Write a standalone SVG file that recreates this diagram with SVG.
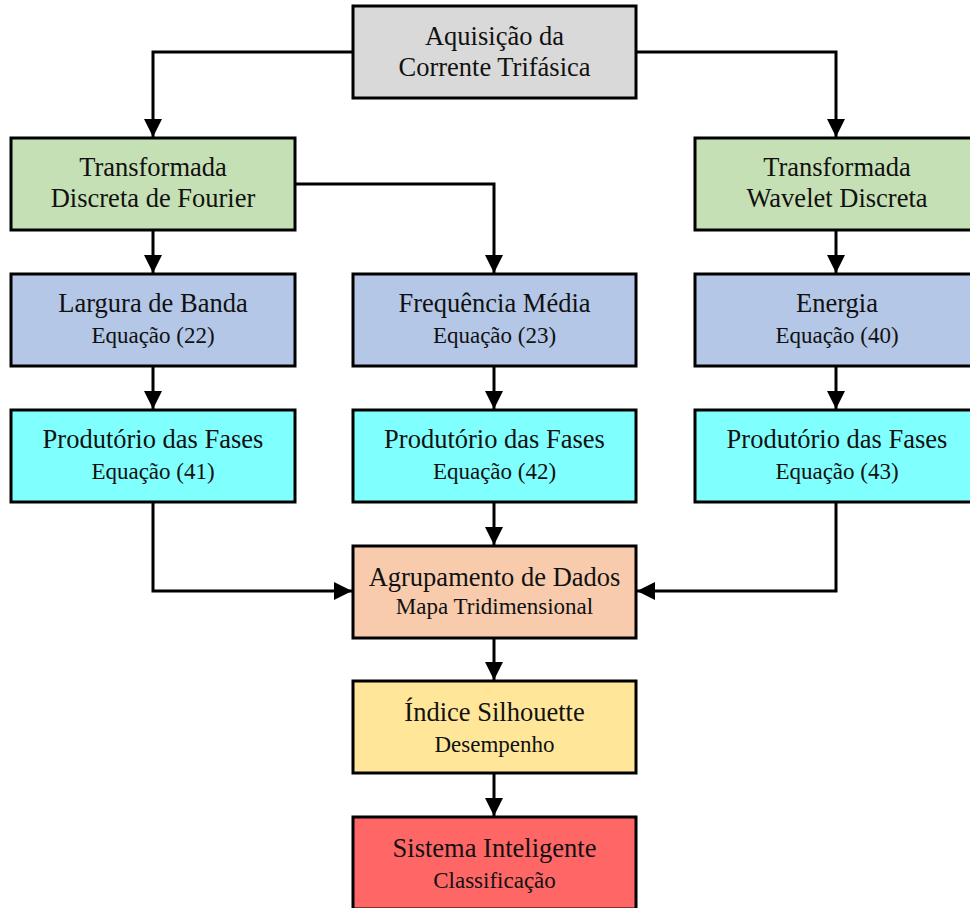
<svg xmlns="http://www.w3.org/2000/svg" width="970" height="908" viewBox="0 0 970 908">
<defs>
<marker id="ah" markerUnits="userSpaceOnUse" markerWidth="18" markerHeight="18" refX="18" refY="9" orient="auto" viewBox="0 0 18 18">
<path d="M0,0 L18,9 L0,18 z" fill="#000"/>
</marker>
<style>
rect{stroke:#000;stroke-width:3}
text{font-family:"Liberation Serif","Times New Roman",serif;fill:#111;text-anchor:middle}
.t{font-size:26.5px}
.s{font-size:23px}
.c path{fill:none;stroke:#000;stroke-width:3;marker-end:url(#ah)}
</style>
</defs>
<rect x="0" y="0" width="970" height="908" fill="#fff" style="stroke:none"/>
<g class="c" id="connectors">
<path d="M353,52 H153 V137"/>
<path d="M636,52 H836 V137"/>
<path d="M153,230 V273"/>
<path d="M295,184 H494 V273"/>
<path d="M836,230 V273"/>
<path d="M153,366 V409"/>
<path d="M494,366 V409"/>
<path d="M836,366 V409"/>
<path d="M494,502 V545"/>
<path d="M153,502 V591 H352"/>
<path d="M836,502 V591 H637"/>
<path d="M494,638 V680"/>
<path d="M494,773 V816"/>
</g>
<g id="aquisicao"><rect x="353" y="6" width="283" height="92" fill="#d9d9d9"/><text class="t" x="494.5" y="45">Aquisição da</text><text class="t" x="494.5" y="76">Corrente Trifásica</text></g>
<g id="fourier"><rect x="11" y="138" width="284" height="92" fill="#c5e0b4"/><text class="t" x="153" y="176">Transformada</text><text class="t" x="153" y="207">Discreta de Fourier</text></g>
<g id="wavelet"><rect x="695" y="138" width="284" height="92" fill="#c5e0b4"/><text class="t" x="837" y="176">Transformada</text><text class="t" x="837" y="207">Wavelet Discreta</text></g>
<g id="largura"><rect x="11" y="274" width="284" height="92" fill="#b4c7e7"/><text class="t" x="153" y="312">Largura de Banda</text><text class="s" x="153" y="343">Equação (22)</text></g>
<g id="frequencia"><rect x="353" y="274" width="283" height="92" fill="#b4c7e7"/><text class="t" x="494.5" y="312">Frequência Média</text><text class="s" x="494.5" y="343">Equação (23)</text></g>
<g id="energia"><rect x="695" y="274" width="284" height="92" fill="#b4c7e7"/><text class="t" x="837" y="312">Energia</text><text class="s" x="837" y="343">Equação (40)</text></g>
<g id="prod41"><rect x="11" y="410" width="284" height="92" fill="#80ffff"/><text class="t" x="153" y="448">Produtório das Fases</text><text class="s" x="153" y="479">Equação (41)</text></g>
<g id="prod42"><rect x="353" y="410" width="283" height="92" fill="#80ffff"/><text class="t" x="494.5" y="448">Produtório das Fases</text><text class="s" x="494.5" y="479">Equação (42)</text></g>
<g id="prod43"><rect x="695" y="410" width="284" height="92" fill="#80ffff"/><text class="t" x="837" y="448">Produtório das Fases</text><text class="s" x="837" y="479">Equação (43)</text></g>
<g id="agrupamento"><rect x="353" y="546" width="283" height="92" fill="#f8cbad"/><text class="t" x="494.5" y="586">Agrupamento de Dados</text><text class="s" x="494.5" y="614">Mapa Tridimensional</text></g>
<g id="silhouette"><rect x="353" y="681" width="283" height="92" fill="#ffe699"/><text class="t" x="494.5" y="721">Índice Silhouette</text><text class="s" x="494.5" y="752">Desempenho</text></g>
<g id="sistema"><rect x="353" y="817" width="283" height="92" fill="#ff6666"/><text class="t" x="494.5" y="857">Sistema Inteligente</text><text class="s" x="494.5" y="888">Classificação</text></g>
</svg>
